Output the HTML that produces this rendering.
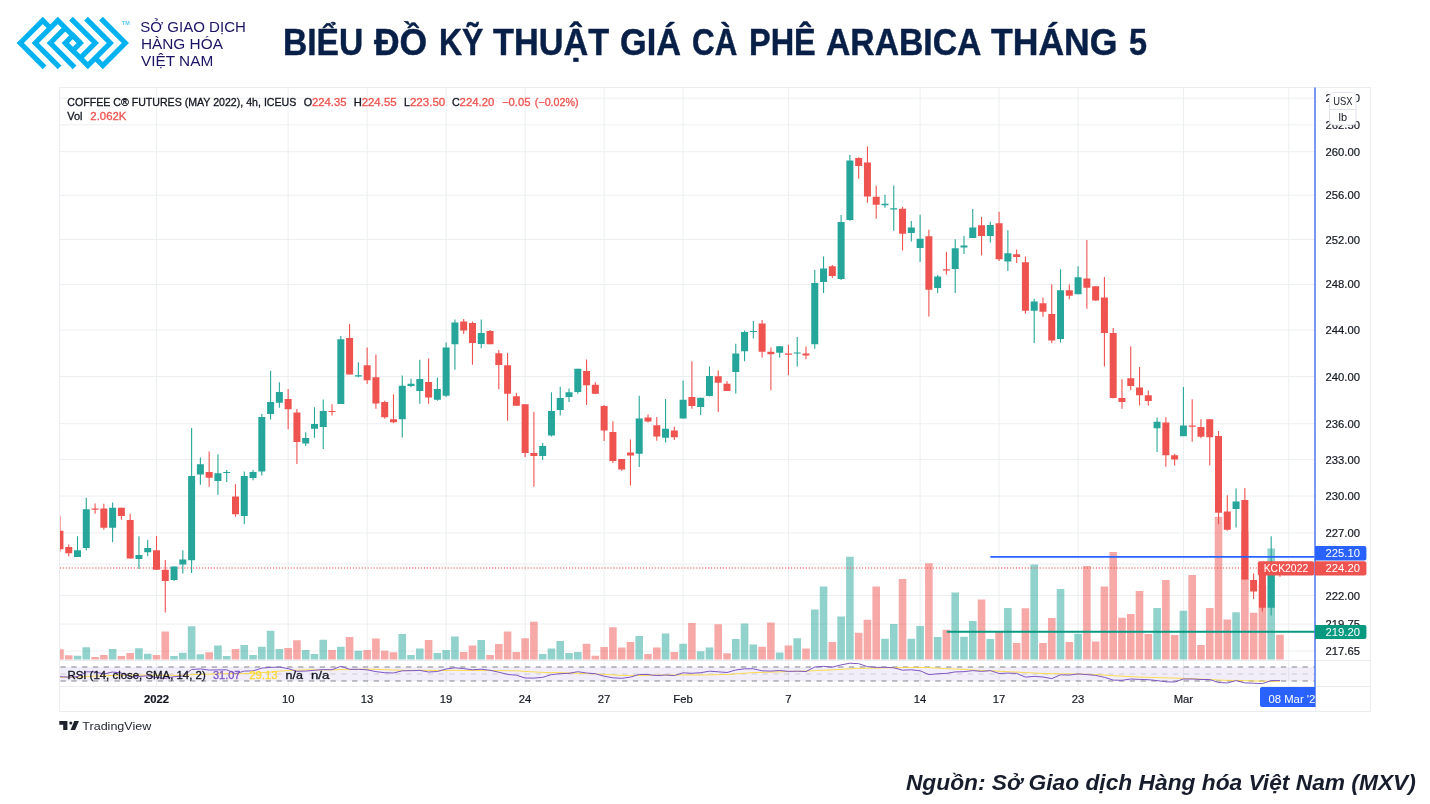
<!DOCTYPE html>
<html lang="vi"><head><meta charset="utf-8"><title>Biểu đồ kỹ thuật giá cà phê Arabica tháng 5</title>
<style>
html,body{margin:0;padding:0;background:#fff}
body{width:1430px;height:804px;position:relative;overflow:hidden;font-family:"Liberation Sans",sans-serif}
#title{position:absolute;left:0;top:18.6px;margin:0;width:1430px;height:48px;font-size:36.0px;line-height:48px;font-weight:bold;color:#081f47;-webkit-text-stroke:0.45px #081f47;white-space:nowrap}
#title span{position:absolute;top:0;transform-origin:0 50%}
#src{position:absolute;right:14.2px;top:767px;font-size:22.76px;line-height:30px;font-weight:bold;font-style:italic;color:#171d2c;white-space:nowrap;transform-origin:100% 50%}
#root{position:absolute;left:0;top:0;width:1430px;height:804px;will-change:transform}
</style></head><body><div id="root">
<svg width="1430" height="804" viewBox="0 0 1430 804" style="position:absolute;left:0;top:0" font-family="'Liberation Sans',sans-serif">
<defs><clipPath id="cp"><rect x="60.0" y="87.5" width="1255.0" height="573.0"/></clipPath></defs>
<path d="M156.50 87.5V686.5M288.15 87.5V686.5M367.15 87.5V686.5M446.14 87.5V686.5M525.13 87.5V686.5M604.13 87.5V686.5M683.12 87.5V686.5M788.44 87.5V686.5M920.10 87.5V686.5M999.09 87.5V686.5M1078.09 87.5V686.5M1183.41 87.5V686.5M1288.73 87.5V686.5M59.5 98.20H1315M59.5 124.82H1315M59.5 151.70H1315M59.5 195.25H1315M59.5 239.48H1315M59.5 284.41H1315M59.5 330.08H1315M59.5 376.51H1315M59.5 423.71H1315M59.5 459.64H1315M59.5 496.04H1315M59.5 532.92H1315M59.5 564.02H1315M59.5 595.47H1315M59.5 624.08H1315M59.5 651.05H1315" stroke="#eceff0" stroke-width="1" fill="none"/>
<path d="M59.5 87.5H1370.5V711.5H59.5Z M59.5 660.5H1370.5 M59.5 686.5H1370.5 M1315.5 87.5V711.5" stroke="#eaecf1" stroke-width="1" fill="none"/>
<g clip-path="url(#cp)">
<path d="M73.71 655.7h7.6V659.5h-7.6zM82.48 647.3h7.6V659.5h-7.6zM108.82 649.1h7.6V659.5h-7.6zM135.15 648.3h7.6V659.5h-7.6zM143.92 653.7h7.6V659.5h-7.6zM170.25 656.1h7.6V659.5h-7.6zM179.03 652.7h7.6V659.5h-7.6zM187.81 626.2h7.6V659.5h-7.6zM196.58 654.3h7.6V659.5h-7.6zM214.14 645.5h7.6V659.5h-7.6zM222.92 656.1h7.6V659.5h-7.6zM240.47 644.9h7.6V659.5h-7.6zM249.25 654.9h7.6V659.5h-7.6zM258.02 646.7h7.6V659.5h-7.6zM266.80 630.8h7.6V659.5h-7.6zM275.58 649.1h7.6V659.5h-7.6zM301.91 649.9h7.6V659.5h-7.6zM310.69 654.1h7.6V659.5h-7.6zM319.46 639.7h7.6V659.5h-7.6zM337.02 646.7h7.6V659.5h-7.6zM354.57 650.7h7.6V659.5h-7.6zM398.46 634.1h7.6V659.5h-7.6zM407.23 654.9h7.6V659.5h-7.6zM416.01 648.5h7.6V659.5h-7.6zM433.56 652.9h7.6V659.5h-7.6zM442.34 650.1h7.6V659.5h-7.6zM451.12 636.5h7.6V659.5h-7.6zM477.45 640.1h7.6V659.5h-7.6zM538.89 654.1h7.6V659.5h-7.6zM547.66 648.5h7.6V659.5h-7.6zM556.44 640.9h7.6V659.5h-7.6zM565.22 653.1h7.6V659.5h-7.6zM574.00 651.9h7.6V659.5h-7.6zM635.43 635.9h7.6V659.5h-7.6zM661.77 633.5h7.6V659.5h-7.6zM679.32 643.7h7.6V659.5h-7.6zM696.87 651.2h7.6V659.5h-7.6zM705.65 647.6h7.6V659.5h-7.6zM731.98 639.1h7.6V659.5h-7.6zM740.76 623.5h7.6V659.5h-7.6zM749.54 644.5h7.6V659.5h-7.6zM775.87 652.4h7.6V659.5h-7.6zM793.42 638.3h7.6V659.5h-7.6zM810.98 609.6h7.6V659.5h-7.6zM819.75 586.5h7.6V659.5h-7.6zM837.31 616.5h7.6V659.5h-7.6zM846.08 556.8h7.6V659.5h-7.6zM881.19 638.7h7.6V659.5h-7.6zM889.97 623.9h7.6V659.5h-7.6zM907.52 638.7h7.6V659.5h-7.6zM916.30 626.1h7.6V659.5h-7.6zM933.85 637.1h7.6V659.5h-7.6zM951.41 592.6h7.6V659.5h-7.6zM960.18 636.7h7.6V659.5h-7.6zM968.96 621.1h7.6V659.5h-7.6zM986.51 639.1h7.6V659.5h-7.6zM1004.07 608.0h7.6V659.5h-7.6zM1030.40 564.5h7.6V659.5h-7.6zM1056.73 589.0h7.6V659.5h-7.6zM1074.29 633.7h7.6V659.5h-7.6zM1153.28 608.1h7.6V659.5h-7.6zM1179.61 610.7h7.6V659.5h-7.6zM1232.27 612.3h7.6V659.5h-7.6zM1267.38 548.6h7.6V659.5h-7.6z" fill="#26a69a" fill-opacity="0.5"/>
<path d="M56.15 649.3h7.6V659.5h-7.6zM64.93 655.3h7.6V659.5h-7.6zM91.26 656.9h7.6V659.5h-7.6zM100.04 654.9h7.6V659.5h-7.6zM117.59 656.1h7.6V659.5h-7.6zM126.37 653.1h7.6V659.5h-7.6zM152.70 654.9h7.6V659.5h-7.6zM161.48 631.4h7.6V659.5h-7.6zM205.36 652.3h7.6V659.5h-7.6zM231.69 649.1h7.6V659.5h-7.6zM284.35 647.9h7.6V659.5h-7.6zM293.13 640.3h7.6V659.5h-7.6zM328.24 649.9h7.6V659.5h-7.6zM345.79 637.1h7.6V659.5h-7.6zM363.35 649.9h7.6V659.5h-7.6zM372.12 638.5h7.6V659.5h-7.6zM380.90 650.7h7.6V659.5h-7.6zM389.68 652.3h7.6V659.5h-7.6zM424.79 640.1h7.6V659.5h-7.6zM459.89 651.9h7.6V659.5h-7.6zM468.67 645.5h7.6V659.5h-7.6zM486.23 654.9h7.6V659.5h-7.6zM495.00 644.1h7.6V659.5h-7.6zM503.78 631.4h7.6V659.5h-7.6zM512.56 651.9h7.6V659.5h-7.6zM521.33 638.3h7.6V659.5h-7.6zM530.11 621.8h7.6V659.5h-7.6zM582.77 643.7h7.6V659.5h-7.6zM591.55 655.7h7.6V659.5h-7.6zM600.33 647.1h7.6V659.5h-7.6zM609.10 627.2h7.6V659.5h-7.6zM617.88 647.5h7.6V659.5h-7.6zM626.66 641.9h7.6V659.5h-7.6zM644.21 654.0h7.6V659.5h-7.6zM652.99 647.6h7.6V659.5h-7.6zM670.54 652.0h7.6V659.5h-7.6zM688.10 623.1h7.6V659.5h-7.6zM714.43 624.3h7.6V659.5h-7.6zM723.21 653.2h7.6V659.5h-7.6zM758.31 646.8h7.6V659.5h-7.6zM767.09 622.5h7.6V659.5h-7.6zM784.64 645.4h7.6V659.5h-7.6zM802.20 648.4h7.6V659.5h-7.6zM828.53 641.9h7.6V659.5h-7.6zM854.86 632.7h7.6V659.5h-7.6zM863.64 619.7h7.6V659.5h-7.6zM872.41 586.5h7.6V659.5h-7.6zM898.75 578.9h7.6V659.5h-7.6zM925.08 563.3h7.6V659.5h-7.6zM942.63 629.7h7.6V659.5h-7.6zM977.74 599.6h7.6V659.5h-7.6zM995.29 631.7h7.6V659.5h-7.6zM1012.85 642.9h7.6V659.5h-7.6zM1021.62 608.2h7.6V659.5h-7.6zM1039.18 643.1h7.6V659.5h-7.6zM1047.95 617.9h7.6V659.5h-7.6zM1065.51 641.9h7.6V659.5h-7.6zM1083.06 565.9h7.6V659.5h-7.6zM1091.84 641.5h7.6V659.5h-7.6zM1100.62 586.5h7.6V659.5h-7.6zM1109.39 552.0h7.6V659.5h-7.6zM1118.17 617.7h7.6V659.5h-7.6zM1126.95 614.0h7.6V659.5h-7.6zM1135.72 591.0h7.6V659.5h-7.6zM1144.50 633.9h7.6V659.5h-7.6zM1162.06 580.1h7.6V659.5h-7.6zM1170.83 635.1h7.6V659.5h-7.6zM1188.39 575.0h7.6V659.5h-7.6zM1197.16 644.9h7.6V659.5h-7.6zM1205.94 608.1h7.6V659.5h-7.6zM1214.72 516.8h7.6V659.5h-7.6zM1223.49 619.6h7.6V659.5h-7.6zM1241.05 531.5h7.6V659.5h-7.6zM1249.83 612.8h7.6V659.5h-7.6zM1258.60 585.0h7.6V659.5h-7.6zM1276.16 634.8h7.6V659.5h-7.6z" fill="#ef5350" fill-opacity="0.5"/>
<path d="M59.8 568.1H1315" stroke="#ef5350" stroke-width="1.5" stroke-dasharray="1.2 1.76" fill="none" opacity="0.7"/>
<path d="M77.51 536.3V557.0M86.28 497.8V550.6M112.62 502.4V542.2M138.95 536.3V569.1M147.72 539.7V556.2M174.05 566.4V581.1M182.83 550.2V573.5M191.61 428.0V573.1M200.38 457.5V484.8M217.94 454.3V494.8M226.72 469.9V481.9M244.27 471.5V524.3M253.05 469.9V480.3M261.82 414.0V475.5M270.60 370.8V419.6M279.38 382.3V407.7M305.71 432.2V446.1M314.49 407.3V437.8M323.26 399.5V449.1M340.82 335.9V404.1M358.37 362.2V377.2M402.26 375.4V437.6M411.03 378.8V387.3M419.81 359.8V403.7M437.36 377.4V400.7M446.14 342.5V397.1M454.92 319.4V369.8M481.25 319.6V348.3M542.69 443.1V460.1M551.46 392.3V436.6M560.24 386.7V415.6M569.02 388.5V402.1M577.80 368.8V393.7M639.23 395.7V466.9M665.57 398.9V442.5M683.12 380.4V418.4M700.67 397.8V415.0M709.45 366.5V396.6M735.78 343.8V393.6M744.56 330.5V361.2M753.34 320.9V338.4M779.67 346.2V357.4M797.22 337.0V366.5M814.77 270.1V348.8M823.55 256.6V293.0M841.11 215.1V279.9M849.88 154.9V220.7M884.99 194.8V207.7M893.77 185.4V230.7M911.32 221.1V241.6M920.10 214.7V262.0M937.65 275.1V293.0M955.21 239.2V293.0M963.98 236.0V254.0M972.76 209.1V238.0M990.31 221.7V242.6M1007.87 230.3V270.9M1034.20 298.8V343.0M1060.53 269.3V342.6M1078.09 266.3V294.2M1157.08 417.4V452.1M1183.41 386.9V436.1M1236.07 488.4V527.4M1271.18 536.2V615.5" stroke="#26a69a" stroke-width="1.1" fill="none"/>
<path d="M59.95 515.7V551.6M68.73 544.6V556.6M95.06 503.4V513.7M103.84 503.8V529.7M121.39 507.8V519.7M130.17 513.7V558.4M156.50 536.1V569.7M165.28 560.0V612.4M209.16 451.4V486.8M235.49 484.2V516.7M288.15 389.1V429.2M296.93 409.1V463.9M332.04 404.3V415.6M349.59 324.0V374.6M367.15 347.5V384.1M375.92 354.4V408.7M384.70 400.7V418.8M393.48 394.3V423.2M428.59 358.4V403.7M463.69 319.0V333.9M472.47 321.4V364.8M490.03 329.9V344.3M498.80 349.9V389.3M507.58 352.9V420.8M516.36 393.1V405.7M525.13 404.3V456.9M533.91 412.0V486.8M586.57 359.4V405.1M595.35 382.2V394.3M604.13 405.1V441.1M612.90 421.2V462.9M621.68 459.1V470.8M630.46 439.6V485.4M648.01 414.4V422.6M656.79 417.0V440.7M674.34 426.8V440.0M691.90 361.2V408.7M718.23 370.5V412.0M727.00 381.1V391.0M762.11 319.9V357.4M770.89 347.4V390.2M788.44 344.8V375.3M806.00 346.4V359.2M832.33 264.9V278.1M858.66 157.3V178.8M867.44 146.6V202.8M876.21 185.8V218.7M902.54 206.7V250.6M928.88 229.7V316.5M946.43 252.0V274.5M981.54 217.1V255.6M999.09 211.7V261.0M1016.65 249.6V263.0M1025.42 256.6V313.7M1042.98 297.4V316.7M1051.75 284.2V343.0M1069.31 284.4V299.2M1086.86 240.0V308.7M1095.64 286.2V300.8M1104.42 276.9V366.5M1113.19 328.1V398.4M1121.97 379.3V408.8M1130.75 346.2V390.3M1139.52 367.0V405.4M1148.30 390.5V405.8M1165.86 417.2V466.8M1174.63 453.7V465.6M1192.19 399.2V441.7M1200.96 419.2V438.3M1209.74 419.2V465.6M1218.52 431.1V524.2M1227.29 495.3V530.7M1244.85 488.0V579.5M1253.62 573.5V599.0M1262.40 566.0V611.6M1279.96 565.5V576.8" stroke="#ef5350" stroke-width="1.1" fill="none"/>
<path d="M74.01 550.2h7v6.8h-7zM82.78 509.2h7v38.7h-7zM109.12 507.8h7v19.9h-7zM135.45 555.0h7v4.0h-7zM144.22 548.0h7v4.2h-7zM170.55 566.4h7v13.6h-7zM179.33 559.6h7v5.0h-7zM188.11 475.9h7v84.3h-7zM196.88 464.3h7v10.2h-7zM214.44 473.3h7v7.6h-7zM223.22 471.9h7v1.0h-7zM240.77 475.9h7v40.1h-7zM249.55 471.9h7v6.0h-7zM258.32 417.0h7v54.5h-7zM267.10 402.1h7v12.0h-7zM275.88 392.1h7v10.6h-7zM302.21 438.0h7v5.6h-7zM310.99 424.0h7v4.8h-7zM319.76 411.0h7v15.9h-7zM337.32 339.3h7v64.8h-7zM354.87 375.2h7v1.2h-7zM398.76 385.7h7v33.5h-7zM407.53 383.7h7v2.4h-7zM416.31 379.0h7v12.0h-7zM433.86 389.1h7v10.6h-7zM442.64 347.5h7v48.2h-7zM451.42 322.6h7v21.7h-7zM477.75 332.9h7v11.0h-7zM539.19 445.9h7v10.0h-7zM547.96 411.1h7v24.5h-7zM556.74 398.1h7v12.0h-7zM565.52 392.3h7v4.8h-7zM574.30 368.8h7v23.3h-7zM635.73 418.6h7v35.1h-7zM662.07 428.8h7v9.0h-7zM679.62 399.7h7v18.7h-7zM697.17 397.8h7v9.2h-7zM705.95 376.1h7v19.9h-7zM732.28 353.4h7v18.5h-7zM741.06 331.9h7v19.3h-7zM749.84 330.9h7v1.0h-7zM776.17 346.2h7v6.6h-7zM793.72 352.4h7v1.0h-7zM811.27 283.1h7v61.1h-7zM820.05 268.5h7v13.4h-7zM837.61 222.1h7v56.8h-7zM846.38 160.5h7v59.6h-7zM881.49 203.8h7v1.4h-7zM890.27 208.3h7v1.2h-7zM907.82 227.5h7v5.6h-7zM916.60 238.8h7v9.2h-7zM934.15 276.5h7v11.4h-7zM951.71 248.2h7v20.7h-7zM960.48 245.6h7v2.0h-7zM969.26 227.5h7v10.6h-7zM986.81 224.9h7v11.0h-7zM1004.37 253.2h7v8.4h-7zM1030.70 301.4h7v9.4h-7zM1057.03 290.2h7v48.8h-7zM1074.59 277.3h7v16.9h-7zM1153.58 421.8h7v6.4h-7zM1179.91 425.4h7v10.8h-7zM1232.57 501.5h7v7.4h-7zM1267.68 567.0h7v40.8h-7z" fill="#26a69a"/>
<path d="M56.45 530.7h7v18.5h-7zM65.23 547.0h7v6.2h-7zM91.56 508.6h7v1.2h-7zM100.34 508.4h7v19.3h-7zM117.89 507.8h7v8.2h-7zM126.67 520.1h7v38.3h-7zM153.00 550.2h7v19.5h-7zM161.78 569.7h7v11.2h-7zM205.66 471.9h7v5.8h-7zM231.99 496.4h7v17.9h-7zM284.65 399.1h7v10.2h-7zM293.43 412.6h7v29.3h-7zM328.54 411.0h7v1.0h-7zM346.09 337.9h7v36.7h-7zM363.65 365.2h7v15.1h-7zM372.42 377.2h7v26.3h-7zM381.20 402.1h7v15.1h-7zM389.98 419.2h7v3.0h-7zM425.09 382.1h7v15.5h-7zM460.19 321.6h7v8.8h-7zM468.97 323.0h7v19.9h-7zM486.53 331.1h7v13.2h-7zM495.30 353.3h7v11.8h-7zM504.08 365.2h7v28.5h-7zM512.86 396.3h7v9.4h-7zM521.63 404.3h7v48.6h-7zM530.41 452.9h7v3.0h-7zM583.07 371.0h7v14.3h-7zM591.85 384.7h7v9.0h-7zM600.63 405.9h7v24.7h-7zM609.40 432.0h7v28.9h-7zM618.18 459.1h7v10.4h-7zM626.96 452.5h7v3.0h-7zM644.51 417.6h7v4.0h-7zM653.29 425.2h7v11.4h-7zM670.84 430.6h7v6.6h-7zM688.40 397.1h7v9.0h-7zM714.73 376.3h7v6.4h-7zM723.50 383.7h7v7.4h-7zM758.61 323.5h7v28.3h-7zM767.39 351.8h7v2.4h-7zM784.94 353.4h7v1.4h-7zM802.50 353.4h7v2.0h-7zM828.83 266.3h7v9.6h-7zM855.16 158.1h7v7.8h-7zM863.94 162.5h7v33.9h-7zM872.71 196.8h7v8.0h-7zM899.04 208.7h7v25.1h-7zM925.38 236.2h7v53.6h-7zM942.93 269.3h7v1.2h-7zM978.04 225.3h7v10.6h-7zM995.59 223.3h7v35.9h-7zM1013.15 254.2h7v2.8h-7zM1021.92 262.2h7v48.6h-7zM1039.48 303.2h7v8.6h-7zM1048.25 313.9h7v26.7h-7zM1065.81 290.2h7v5.6h-7zM1083.36 278.4h7v9.4h-7zM1092.14 286.2h7v14.2h-7zM1100.92 297.6h7v35.5h-7zM1109.69 333.1h7v64.8h-7zM1118.47 397.9h7v4.0h-7zM1127.25 378.3h7v7.6h-7zM1136.02 387.5h7v7.8h-7zM1144.80 395.3h7v5.8h-7zM1162.36 422.4h7v32.9h-7zM1171.13 455.2h7v4.4h-7zM1188.69 425.6h7v1.2h-7zM1197.46 427.1h7v9.6h-7zM1206.24 419.2h7v18.1h-7zM1215.02 436.1h7v76.7h-7zM1223.79 511.4h7v18.3h-7zM1241.35 499.9h7v79.6h-7zM1250.12 580.1h7v11.3h-7zM1258.90 566.0h7v41.8h-7zM1276.46 567.0h7v1.0h-7z" fill="#ef5350"/>
<path d="M990.3 556.8H1315" stroke="#2962ff" stroke-width="1.8" fill="none"/>
<path d="M946.8 631.7H1315" stroke="#089981" stroke-width="2" fill="none"/>
</g>
<rect x="60.0" y="667" width="1255.0" height="14" fill="#7e57c2" fill-opacity="0.1"/>
<path d="M60.5 667H1315 M60.5 681H1315" stroke="#80838e" stroke-width="1.15" stroke-dasharray="5.3 5.5" fill="none"/>
<path d="M60.5 674H1315" stroke="#787b86" stroke-width="1.2" stroke-dasharray="5.3 5.5" fill="none" opacity="0.3"/>
<path d="M60.0 677.3 L68.7 677.2 L77.5 677.0 L86.3 676.6 L95.1 676.1 L103.8 675.9 L112.6 675.4 L121.4 675.2 L130.2 675.1 L138.9 675.2 L147.7 675.0 L156.5 675.2 L165.3 675.3 L174.1 675.4 L182.8 675.3 L191.6 674.8 L200.4 674.2 L209.2 674.1 L217.9 673.9 L226.7 673.6 L235.5 673.8 L244.3 673.6 L253.0 673.2 L261.8 672.6 L270.6 672.0 L279.4 671.2 L288.2 670.5 L296.9 670.2 L305.7 669.8 L314.5 669.9 L323.3 669.9 L332.0 669.9 L340.8 669.6 L349.6 669.6 L358.4 669.3 L367.1 669.2 L375.9 669.3 L384.7 669.6 L393.5 670.0 L402.3 670.3 L411.0 670.4 L419.8 670.3 L428.6 670.4 L437.4 670.5 L446.1 670.4 L454.9 670.3 L463.7 670.5 L472.5 670.5 L481.2 670.5 L490.0 670.5 L498.8 670.6 L507.6 670.7 L516.4 670.8 L525.1 671.4 L533.9 671.9 L542.7 672.4 L551.5 672.6 L560.2 672.7 L569.0 673.0 L577.8 673.3 L586.6 673.6 L595.3 673.9 L604.1 674.4 L612.9 674.9 L621.7 675.4 L630.5 675.6 L639.2 675.5 L648.0 675.3 L656.8 675.1 L665.6 674.9 L674.3 675.0 L683.1 674.9 L691.9 674.9 L700.7 675.0 L709.5 674.9 L718.2 674.7 L727.0 674.5 L735.8 673.9 L744.6 673.2 L753.3 672.6 L762.1 672.4 L770.9 672.1 L779.7 671.8 L788.4 671.5 L797.2 671.2 L806.0 671.1 L814.8 670.7 L823.6 670.2 L832.3 669.9 L841.1 669.4 L849.9 668.8 L858.7 668.3 L867.4 668.2 L876.2 668.1 L885.0 667.8 L893.8 667.6 L902.5 667.6 L911.3 667.4 L920.1 667.4 L928.9 667.6 L937.7 668.1 L946.4 668.6 L955.2 669.0 L964.0 669.4 L972.8 670.0 L981.5 670.5 L990.3 670.8 L999.1 671.2 L1007.9 671.7 L1016.6 672.1 L1025.4 672.6 L1034.2 673.0 L1043.0 673.5 L1051.8 673.7 L1060.5 673.8 L1069.3 673.9 L1078.1 674.1 L1086.9 674.3 L1095.6 674.6 L1104.4 675.1 L1113.2 675.7 L1122.0 676.2 L1130.7 676.6 L1139.5 677.1 L1148.3 677.3 L1157.1 677.6 L1165.9 677.9 L1174.6 678.1 L1183.4 678.4 L1192.2 678.7 L1201.0 679.1 L1209.7 679.5 L1218.5 680.0 L1227.3 680.4 L1236.1 680.4 L1244.8 680.6 L1253.6 680.9 L1262.4 681.2 L1271.2 681.3 L1280.0 681.3" stroke="#fdd835" stroke-width="1" fill="none" opacity="0.85"/>
<path d="M60.0 676.7 L68.7 677.1 L77.5 676.7 L86.3 671.8 L95.1 671.9 L103.8 674.0 L112.6 672.0 L121.4 673.0 L130.2 676.9 L138.9 676.5 L147.7 675.8 L156.5 677.5 L165.3 678.3 L174.1 676.7 L182.8 676.0 L191.6 669.5 L200.4 668.9 L209.2 670.1 L217.9 669.9 L226.7 669.8 L235.5 673.6 L244.3 671.1 L253.0 670.9 L261.8 668.1 L270.6 667.4 L279.4 667.0 L288.2 668.6 L296.9 671.3 L305.7 671.1 L314.5 670.3 L323.3 669.6 L332.0 669.7 L340.8 666.3 L349.6 669.3 L358.4 669.3 L367.1 669.8 L375.9 671.6 L384.7 672.7 L393.5 673.0 L402.3 670.8 L411.0 670.7 L419.8 670.4 L428.6 672.0 L437.4 671.5 L446.1 669.0 L454.9 667.8 L463.7 668.6 L472.5 669.8 L481.2 669.2 L490.0 670.3 L498.8 672.2 L507.6 674.4 L516.4 675.2 L525.1 678.0 L533.9 678.1 L542.7 677.3 L551.5 674.6 L560.2 673.7 L569.0 673.3 L577.8 671.7 L586.6 673.0 L595.3 673.7 L604.1 676.2 L612.9 677.8 L621.7 678.3 L630.5 677.1 L639.2 674.4 L648.0 674.6 L656.8 675.6 L665.6 675.0 L674.3 675.6 L683.1 672.8 L691.9 673.3 L700.7 672.7 L709.5 671.2 L718.2 671.8 L727.0 672.5 L735.8 670.0 L744.6 668.8 L753.3 668.8 L762.1 670.8 L770.9 671.1 L779.7 670.5 L788.4 671.4 L797.2 671.2 L806.0 671.5 L814.8 667.0 L823.6 666.3 L832.3 667.2 L841.1 664.9 L849.9 663.2 L858.7 663.7 L867.4 666.6 L876.2 667.4 L885.0 667.3 L893.8 667.8 L902.5 670.2 L911.3 669.8 L920.1 670.8 L928.9 674.6 L937.7 673.8 L946.4 673.4 L955.2 671.9 L964.0 671.7 L972.8 670.6 L981.5 671.4 L990.3 670.6 L999.1 673.5 L1007.9 673.1 L1016.6 673.4 L1025.4 677.1 L1034.2 676.4 L1043.0 677.0 L1051.8 678.6 L1060.5 674.8 L1069.3 675.1 L1078.1 673.9 L1086.9 674.6 L1095.6 675.4 L1104.4 677.3 L1113.2 680.1 L1122.0 680.3 L1130.7 679.0 L1139.5 679.4 L1148.3 679.7 L1157.1 680.6 L1165.9 681.8 L1174.6 682.0 L1183.4 679.0 L1192.2 679.0 L1201.0 679.5 L1209.7 679.5 L1218.5 682.5 L1227.3 683.0 L1236.1 680.6 L1244.8 682.9 L1253.6 683.2 L1262.4 683.6 L1271.2 680.6 L1280.0 680.6" stroke="#7e57c2" stroke-width="1" fill="none"/>
<path d="M1315 87.5V707" stroke="#5b7ff3" stroke-width="1.6" fill="none"/>
<text x="1325.5" y="102.2" font-size="11.3" fill="#131722" stroke="#131722" stroke-width="0.2" textLength="34.5" lengthAdjust="spacingAndGlyphs">265.00</text>
<text x="1325.5" y="128.8" font-size="11.3" fill="#131722" stroke="#131722" stroke-width="0.2" textLength="34.5" lengthAdjust="spacingAndGlyphs">262.50</text>
<text x="1325.5" y="155.7" font-size="11.3" fill="#131722" stroke="#131722" stroke-width="0.2" textLength="34.5" lengthAdjust="spacingAndGlyphs">260.00</text>
<text x="1325.5" y="199.2" font-size="11.3" fill="#131722" stroke="#131722" stroke-width="0.2" textLength="34.5" lengthAdjust="spacingAndGlyphs">256.00</text>
<text x="1325.5" y="243.5" font-size="11.3" fill="#131722" stroke="#131722" stroke-width="0.2" textLength="34.5" lengthAdjust="spacingAndGlyphs">252.00</text>
<text x="1325.5" y="288.4" font-size="11.3" fill="#131722" stroke="#131722" stroke-width="0.2" textLength="34.5" lengthAdjust="spacingAndGlyphs">248.00</text>
<text x="1325.5" y="334.1" font-size="11.3" fill="#131722" stroke="#131722" stroke-width="0.2" textLength="34.5" lengthAdjust="spacingAndGlyphs">244.00</text>
<text x="1325.5" y="380.5" font-size="11.3" fill="#131722" stroke="#131722" stroke-width="0.2" textLength="34.5" lengthAdjust="spacingAndGlyphs">240.00</text>
<text x="1325.5" y="427.7" font-size="11.3" fill="#131722" stroke="#131722" stroke-width="0.2" textLength="34.5" lengthAdjust="spacingAndGlyphs">236.00</text>
<text x="1325.5" y="463.6" font-size="11.3" fill="#131722" stroke="#131722" stroke-width="0.2" textLength="34.5" lengthAdjust="spacingAndGlyphs">233.00</text>
<text x="1325.5" y="500.0" font-size="11.3" fill="#131722" stroke="#131722" stroke-width="0.2" textLength="34.5" lengthAdjust="spacingAndGlyphs">230.00</text>
<text x="1325.5" y="536.9" font-size="11.3" fill="#131722" stroke="#131722" stroke-width="0.2" textLength="34.5" lengthAdjust="spacingAndGlyphs">227.00</text>
<text x="1325.5" y="599.5" font-size="11.3" fill="#131722" stroke="#131722" stroke-width="0.2" textLength="34.5" lengthAdjust="spacingAndGlyphs">222.00</text>
<text x="1325.5" y="628.1" font-size="11.3" fill="#131722" stroke="#131722" stroke-width="0.2" textLength="34.5" lengthAdjust="spacingAndGlyphs">219.75</text>
<text x="1325.5" y="655.1" font-size="11.3" fill="#131722" stroke="#131722" stroke-width="0.2" textLength="34.5" lengthAdjust="spacingAndGlyphs">217.65</text>
<rect x="1329.5" y="92.5" width="26.5" height="32.5" rx="4" fill="#fff" stroke="#e0e3eb" stroke-width="1"/>
<path d="M1329.5 109.5H1356" stroke="#e0e3eb" stroke-width="1"/>
<text x="1342.8" y="105" font-size="10.4" fill="#131722" text-anchor="middle" textLength="19.2" lengthAdjust="spacingAndGlyphs">USX</text>
<text x="1342.8" y="121.3" font-size="11" fill="#131722" text-anchor="middle">lb</text>
<path d="M1315 625H1364.4a2 2 0 0 1 2 2V637a2 2 0 0 1 -2 2H1315z" fill="#089981"/>
<text x="1325.5" y="636.0" font-size="11.3" fill="#fff" textLength="34.5" lengthAdjust="spacingAndGlyphs">219.20</text>
<path d="M1315 546H1364.4a2 2 0 0 1 2 2V558.6a2 2 0 0 1 -2 2H1315z" fill="#2962ff"/>
<text x="1325.5" y="557.3" font-size="11.3" fill="#fff" textLength="34.5" lengthAdjust="spacingAndGlyphs">225.10</text>
<path d="M1315 561.3H1364.4a2 2 0 0 1 2 2V573.4a2 2 0 0 1 -2 2H1315z" fill="#ef5350"/>
<text x="1325.5" y="572.3" font-size="11.3" fill="#fff" textLength="34.5" lengthAdjust="spacingAndGlyphs">224.20</text>
<rect x="1257.8" y="561.3" width="56.5" height="14.1" rx="2" fill="#ef5350"/>
<text x="1263.7" y="572.4" font-size="11.3" fill="#fff" textLength="44.5" lengthAdjust="spacingAndGlyphs">KCK2022</text>
<path d="M1262 687H1315V707H1262a2 2 0 0 1 -2 -2V689a2 2 0 0 1 2 -2z" fill="#2962ff"/>
<clipPath id="tl"><rect x="1260" y="687" width="55" height="20"/></clipPath>
<text x="1268.5" y="702.5" font-size="11.3" fill="#fff" clip-path="url(#tl)">08 Mar '22</text>
<text x="156.5" y="703" font-size="11.3" fill="#131722" stroke="#131722" stroke-width="0.2" text-anchor="middle" font-weight="bold">2022</text>
<text x="288.2" y="703" font-size="11.3" fill="#131722" stroke="#131722" stroke-width="0.2" text-anchor="middle">10</text>
<text x="367.1" y="703" font-size="11.3" fill="#131722" stroke="#131722" stroke-width="0.2" text-anchor="middle">13</text>
<text x="446.1" y="703" font-size="11.3" fill="#131722" stroke="#131722" stroke-width="0.2" text-anchor="middle">19</text>
<text x="525.1" y="703" font-size="11.3" fill="#131722" stroke="#131722" stroke-width="0.2" text-anchor="middle">24</text>
<text x="604.1" y="703" font-size="11.3" fill="#131722" stroke="#131722" stroke-width="0.2" text-anchor="middle">27</text>
<text x="683.1" y="703" font-size="11.3" fill="#131722" stroke="#131722" stroke-width="0.2" text-anchor="middle">Feb</text>
<text x="788.4" y="703" font-size="11.3" fill="#131722" stroke="#131722" stroke-width="0.2" text-anchor="middle">7</text>
<text x="920.1" y="703" font-size="11.3" fill="#131722" stroke="#131722" stroke-width="0.2" text-anchor="middle">14</text>
<text x="999.1" y="703" font-size="11.3" fill="#131722" stroke="#131722" stroke-width="0.2" text-anchor="middle">17</text>
<text x="1078.1" y="703" font-size="11.3" fill="#131722" stroke="#131722" stroke-width="0.2" text-anchor="middle">23</text>
<text x="1183.4" y="703" font-size="11.3" fill="#131722" stroke="#131722" stroke-width="0.2" text-anchor="middle">Mar</text>
<text y="105.6" font-size="10.5" xml:space="preserve"><tspan x="67.3" textLength="229.0" lengthAdjust="spacingAndGlyphs" fill="#131722" stroke="#131722" stroke-width="0.3">COFFEE C® FUTURES (MAY 2022), 4h, ICEUS</tspan><tspan x="303.7" textLength="8.4" lengthAdjust="spacingAndGlyphs" fill="#131722" stroke="#131722" stroke-width="0.3">O</tspan><tspan x="312.0" textLength="34.5" lengthAdjust="spacingAndGlyphs" fill="#ef5350" stroke="#ef5350" stroke-width="0.3">224.35</tspan><tspan x="353.8" textLength="8.1" lengthAdjust="spacingAndGlyphs" fill="#131722" stroke="#131722" stroke-width="0.3">H</tspan><tspan x="361.7" textLength="34.9" lengthAdjust="spacingAndGlyphs" fill="#ef5350" stroke="#ef5350" stroke-width="0.3">224.55</tspan><tspan x="404.0" textLength="5.9" lengthAdjust="spacingAndGlyphs" fill="#131722" stroke="#131722" stroke-width="0.3">L</tspan><tspan x="409.9" textLength="35.4" lengthAdjust="spacingAndGlyphs" fill="#ef5350" stroke="#ef5350" stroke-width="0.3">223.50</tspan><tspan x="451.9" textLength="7.8" lengthAdjust="spacingAndGlyphs" fill="#131722" stroke="#131722" stroke-width="0.3">C</tspan><tspan x="459.6" textLength="34.8" lengthAdjust="spacingAndGlyphs" fill="#ef5350" stroke="#ef5350" stroke-width="0.3">224.20</tspan><tspan x="501.9" textLength="28.6" lengthAdjust="spacingAndGlyphs" fill="#ef5350" stroke="#ef5350" stroke-width="0.3">−0.05</tspan><tspan x="534.8" textLength="43.8" lengthAdjust="spacingAndGlyphs" fill="#ef5350" stroke="#ef5350" stroke-width="0.3">(−0.02%)</tspan></text>
<text y="119.5" font-size="10.5" xml:space="preserve"><tspan x="67.3" textLength="15.2" lengthAdjust="spacingAndGlyphs" fill="#131722" stroke="#131722" stroke-width="0.3">Vol</tspan><tspan x="90.3" textLength="36.1" lengthAdjust="spacingAndGlyphs" fill="#ef5350" stroke="#ef5350" stroke-width="0.3">2.062K</tspan></text>
<text y="678.7" font-size="10.5" xml:space="preserve"><tspan x="67.4" textLength="138.3" lengthAdjust="spacingAndGlyphs" fill="#131722" stroke="#131722" stroke-width="0.3">RSI (14, close, SMA, 14, 2)</tspan><tspan x="213.0" textLength="27.4" lengthAdjust="spacingAndGlyphs" fill="#7e57c2" stroke="#7e57c2" stroke-width="0.3">31.07</tspan><tspan x="249.2" textLength="28.4" lengthAdjust="spacingAndGlyphs" fill="#fdd835" stroke="#fdd835" stroke-width="0.3">29.13</tspan><tspan x="285.6" textLength="17.4" lengthAdjust="spacingAndGlyphs" fill="#131722" stroke="#131722" stroke-width="0.3">n/a</tspan><tspan x="311" textLength="18.4" lengthAdjust="spacingAndGlyphs" fill="#131722" stroke="#131722" stroke-width="0.3">n/a</tspan></text>
<g fill="#1e222d">
<path d="M59.3 721.1h8.1v9h-4.2v-5.4h-3.9z"/>
<circle cx="70.8" cy="722.9" r="1.5"/>
<path d="M74.3 721.1h4.6l-3.8 9h-4.6z"/>
<text x="82.3" y="729.9" font-size="11.4" textLength="69" lengthAdjust="spacingAndGlyphs">TradingView</text>
</g>
</svg>
<svg width="270" height="86" viewBox="0 0 270 86" style="position:absolute;left:0;top:0">
<g transform="translate(72.8 43.0)" fill="none" stroke="#00b2f0" stroke-width="5.2" stroke-linejoin="miter" stroke-miterlimit="10" stroke-linecap="butt">
<path d="M-28.2 24.3L-52.5 0L-30 -22.5L-22.5 -15"/>
<path d="M-13.2 24.3L-37.5 0L-15 -22.5L7.5 0"/>
<path d="M1.8 24.3L-22.5 0L-7.5 -15"/>
<path d="M-7.5 0L0 -7.5L7.5 0L0 7.5Z"/>
<path d="M28.2 -24.3L52.5 0L30 22.5L22.5 15"/>
<path d="M13.2 -24.3L37.5 0L15 22.5L-7.5 0"/>
<path d="M-1.8 -24.3L22.5 0L7.5 15"/>
</g>
<text x="121.8" y="24.6" font-family="'Liberation Sans',sans-serif" font-size="4.6" font-weight="bold" fill="#5cc8f2" textLength="8" lengthAdjust="spacingAndGlyphs">TM</text>
<g font-family="'Liberation Sans',sans-serif" font-size="15.2" fill="#1b1464">
<text x="140.2" y="31.5" textLength="105.7" lengthAdjust="spacingAndGlyphs">SỞ GIAO DỊCH</text>
<text x="140.9" y="48.9" textLength="82" lengthAdjust="spacingAndGlyphs">HÀNG HÓA</text>
<text x="140.9" y="66.4" textLength="72.3" lengthAdjust="spacingAndGlyphs">VIỆT NAM</text>
</g>
</svg>
<h1 id="title"><span style="left:282.59px;transform:scaleX(0.9322)">BIỂU</span> <span style="left:374.0px;transform:scaleX(0.9849)">ĐỒ</span> <span style="left:438.52px;transform:scaleX(0.8875)">KỸ</span> <span style="left:492.9px;transform:scaleX(0.9518)">THUẬT</span> <span style="left:620.25px;transform:scaleX(0.9523)">GIÁ</span> <span style="left:692.13px;transform:scaleX(0.8706)">CÀ</span> <span style="left:748.8px;transform:scaleX(0.9013)">PHÊ</span> <span style="left:826.2px;transform:scaleX(0.9362)">ARABICA</span> <span style="left:991.1px;transform:scaleX(0.9882)">THÁNG</span> <span style="left:1128.7px;transform:scaleX(0.9)">5</span></h1>
<div id="src">Nguồn: Sở Giao dịch Hàng hóa Việt Nam (MXV)</div>
</div></body></html>
